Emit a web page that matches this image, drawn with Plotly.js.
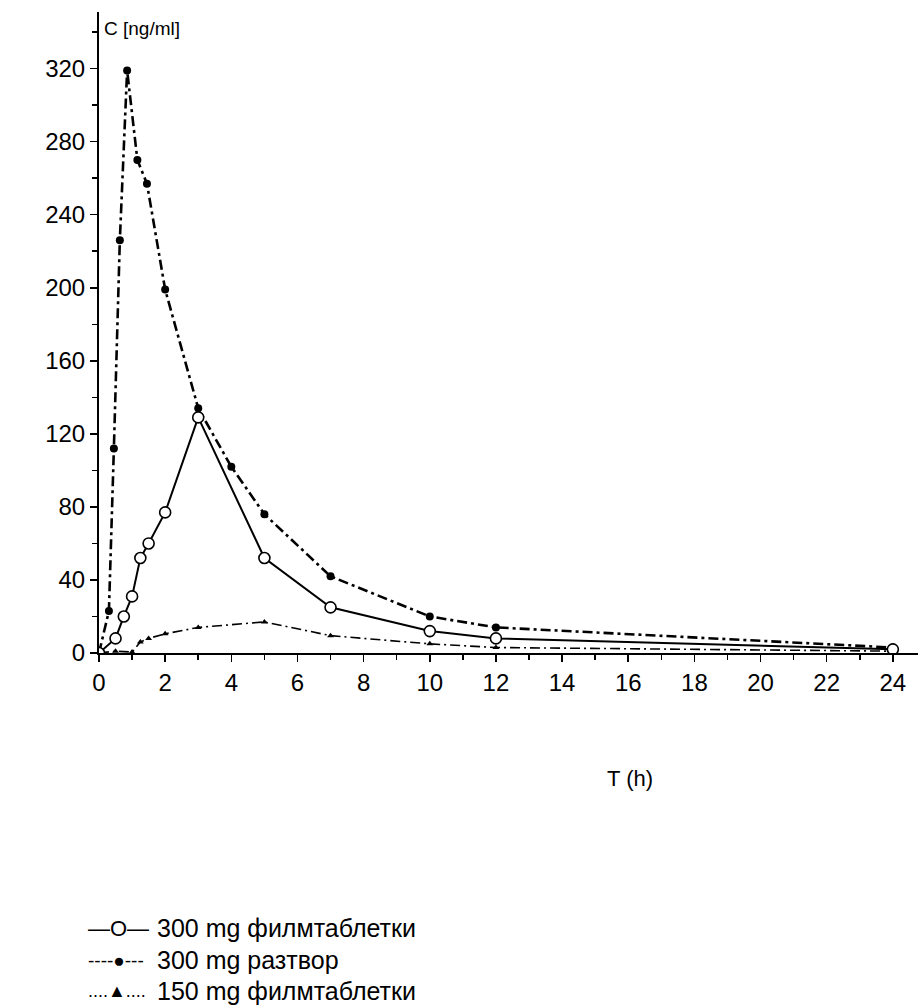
<!DOCTYPE html>
<html>
<head>
<meta charset="utf-8">
<script src="https://cdn.plot.ly/plotly-3.0.1.min.js"></script>
<style>html,body{margin:0;padding:0;background:#fff;}#chart{width:918px;height:1007px;}</style>
</head>
<body>
<div id="chart"></div>
<script>
// 300 mg film-coated tablets (open circles, solid line)
const filmT = [0, 0.5, 0.75, 1, 1.25, 1.5, 2, 3, 5, 7, 10, 12, 24];
const filmC = [0, 8, 20, 31, 52, 60, 77, 129, 52, 25, 12, 8, 2];
// 300 mg solution (filled circles, dash-dot line)
const solT = [0, 0.3, 0.45, 0.63, 0.85, 1.16, 1.45, 2, 3, 4, 5, 7, 10, 12, 24];
const solC = [0, 23, 112, 226, 319, 270, 257, 199, 134, 102, 76, 42, 20, 14, 3];
// 150 mg film-coated tablets (triangles, dotted line)
const lowT = [0, 0.5, 1, 1.25, 1.5, 2, 3, 5, 7, 10, 12, 24];
const lowC = [0, 1, 0.5, 6, 8, 10.5, 14, 17, 9.5, 5, 3, 1];

const seriesNames = ["300 mg филмтаблетки", "300 mg разтвор", "150 mg филмтаблетки"];
const legendSymbols = ["—O—", "----●---", "....▲...."];
const yTitle = "C [ng/ml]";
const xTitle = "T (h)";

const FONT = "Liberation Sans, Arial, sans-serif";

const traces = [
  {x: lowT, y: lowC, name: seriesNames[2], mode: "lines+markers",
   line: {color: "#000", width: 1.6, dash: "10px,4px,2px,4px"},
   marker: {symbol: "triangle-up", size: 6, color: "#000"}},
  {x: solT, y: solC, name: seriesNames[1], mode: "lines+markers",
   line: {color: "#000", width: 2.6, dash: "10px,4px,3px,4px"},
   marker: {symbol: "circle", size: 8, color: "#000"}},
  {x: filmT, y: filmC, name: seriesNames[0], mode: "lines+markers",
   line: {color: "#000", width: 2},
   marker: {symbol: "circle", size: 11, color: "#fff", line: {color: "#000", width: 1.6}}}
];

// plot area: x 99..918, y 12..653
const L = 99, R = 918, T = 12, B = 653;
function px(x){ return (x - L) / (R - L); }
function py(y){ return (B - y) / (B - T); }

const annotations = [
  {text: yTitle, xref: "paper", yref: "paper", x: px(102), y: py(28), xanchor: "left", yanchor: "middle",
   showarrow: false, font: {family: FONT, size: 19, color: "#000"}},
  {text: xTitle, xref: "paper", yref: "paper", x: px(630), y: py(778), xanchor: "center", yanchor: "middle",
   showarrow: false, font: {family: FONT, size: 22, color: "#000"}}
];
const rowY = [928, 960, 991];
const symSize = [22, 19, 18];
for (let i = 0; i < 3; i++) {
  annotations.push({text: legendSymbols[i], xref: "paper", yref: "paper", x: px(86), y: py(rowY[i]),
    xanchor: "left", yanchor: "middle", showarrow: false, font: {family: FONT, size: symSize[i], color: "#000"}});
  annotations.push({text: seriesNames[i], xref: "paper", yref: "paper", x: px(155), y: py(rowY[i]),
    xanchor: "left", yanchor: "middle", showarrow: false, font: {family: FONT, size: 25, color: "#000"}});
}

const layout = {
  width: 918, height: 1007,
  margin: {l: L, r: 918 - R, t: T, b: 1007 - B, pad: 0},
  paper_bgcolor: "#fff", plot_bgcolor: "#fff",
  showlegend: false,
  font: {family: FONT, size: 24, color: "#000"},
  xaxis: {range: [0, 24.76], tick0: 0, dtick: 2, ticks: "outside", ticklen: 7, tickwidth: 1.5,
    tickcolor: "#000", showline: true, linecolor: "#000", linewidth: 2, showgrid: false, zeroline: false,
    minor: {dtick: 1, ticks: "outside", ticklen: 5, tickcolor: "#000", tickwidth: 1.5},
    tickfont: {family: FONT, size: 24, color: "#000"}},
  yaxis: {range: [0, 351], tick0: 0, dtick: 40, ticks: "outside", ticklen: 7, tickwidth: 1.5,
    tickcolor: "#000", showline: true, linecolor: "#000", linewidth: 2, showgrid: false, zeroline: false,
    minor: {dtick: 20, ticks: "outside", ticklen: 5, tickcolor: "#000", tickwidth: 1.5},
    tickfont: {family: FONT, size: 24, color: "#000"}},
  annotations: annotations
};

Plotly.newPlot("chart", traces, layout, {displayModeBar: false, staticPlot: true});
</script>
</body>
</html>
